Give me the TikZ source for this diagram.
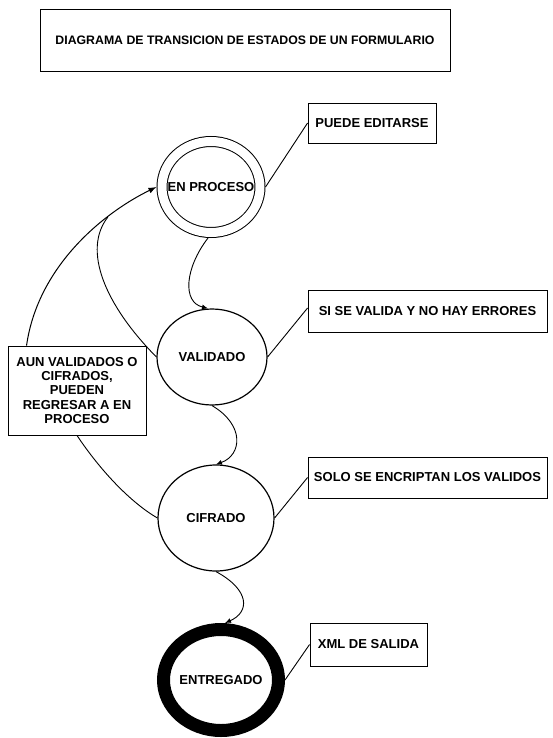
\documentclass[tikz,border=0pt]{standalone}
\usepackage{fontspec}
\setmainfont{Liberation Sans}
\usetikzlibrary{shapes.geometric,arrows.meta}
\begin{document}
\begin{tikzpicture}[x=1pt,y=-1pt,
  lbl/.style={font=\bfseries\fontsize{13}{14.4}\selectfont},
  note/.style={draw,line width=0.9pt,rectangle,inner sep=0pt,lbl,align=center},
  state/.style={draw,line width=1.2pt,ellipse,inner sep=0pt,lbl},
  link/.style={line width=0.9pt},
  trans/.style={line width=0.9pt,-{Latex[length=6pt,width=5pt]}}]
\useasboundingbox (0,0) rectangle (552,738);
\fill[white] (0,0) rectangle (552,738);

% title
\node[note,font=\bfseries\fontsize{12.3}{14}\selectfont,minimum width=410pt,minimum height=62pt] (title) at (245,40)
  {DIAGRAMA DE TRANSICION DE ESTADOS DE UN FORMULARIO};

% states
\node[state,line width=1pt,double,double distance=9pt,minimum width=98pt,minimum height=91pt]
  (ep) at (211,187) {\makebox[0pt]{\raisebox{-3pt}{EN PROCESO}}};
\node[state,minimum width=110pt,minimum height=96pt] (va) at (212,357) {\makebox[0pt]{VALIDADO}};
\node[state,minimum width=116pt,minimum height=106pt] (cf) at (216,518) {\makebox[0pt]{\raisebox{-2pt}{CIFRADO}}};
\node[state,line width=13pt,minimum width=115pt,minimum height=101pt] (en) at (221,680) {\makebox[0pt]{\raisebox{-3pt}{ENTREGADO}}};

% notes
\node[note,minimum width=128pt,minimum height=40pt] (pe) at (372,123) {PUEDE EDITARSE};
\node[note,minimum width=239pt,minimum height=42pt] (si) at (427.5,311) {SI SE VALIDA Y NO HAY ERRORES};
\node[note,minimum width=239pt,minimum height=41pt] (so) at (427.5,477.5) {SOLO SE ENCRIPTAN LOS VALIDOS};
\node[note,minimum width=117pt,minimum height=43pt] (xml) at (368.5,644.5) {XML DE SALIDA};
\node[note,minimum width=138pt,minimum height=89pt] (aun) at (77,390.5)
  {AUN VALIDADOS O\\CIFRADOS,\\PUEDEN\\REGRESAR A EN\\PROCESO};

% note links
\draw[link] ([xshift=5pt]ep.east) -- (pe.west);
\draw[link] (va.east) -- ([yshift=3pt]si.west);
\draw[link] (cf.east) -- (so.west);
\draw[link] (en.east) -- (xml.west);

% transitions
\draw[trans] ([xshift=-3pt,yshift=-5pt]ep.south) .. controls (185,268) and (182,302) .. ([xshift=-4pt]va.north);
\draw[trans] (va.south) .. controls (245,425) and (242,455) .. (cf.north);
\draw[trans] (cf.south) .. controls (250,590) and (250,612) .. ([xshift=4pt]en.north);

% return to EN PROCESO
\draw[line width=1pt,-{Latex[length=8pt,width=6pt]}] ([xshift=19pt]aun.north west)
  .. controls (38,265) and (105,212) .. coordinate[pos=0.7] (j) ([xshift=-5pt]ep.west);
\draw[link] (va.west) .. controls (105,305) and (82,250) .. (j);
\draw[link] (aun.south) .. controls (100,470) and (130,502) .. (cf.west);
\end{tikzpicture}
\end{document}
